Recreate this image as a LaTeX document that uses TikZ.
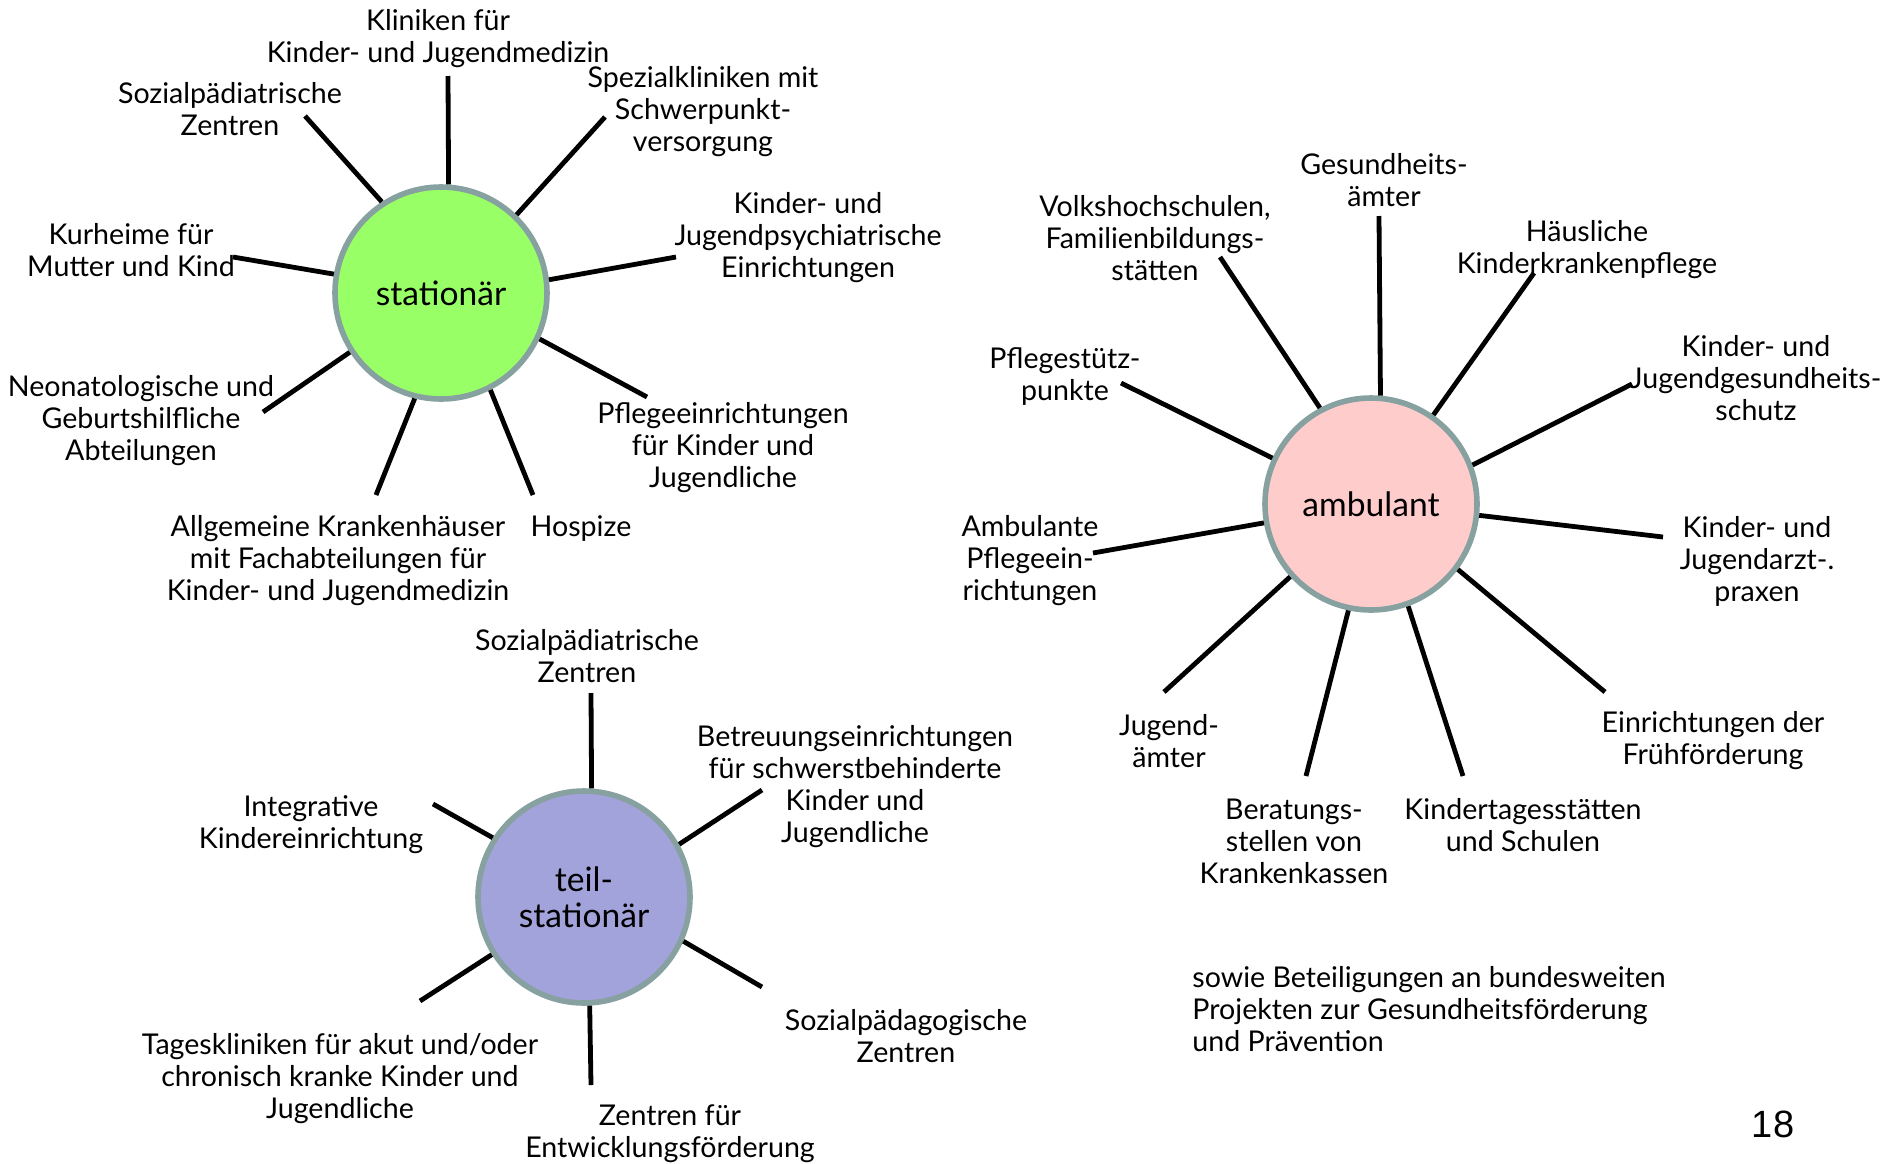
\documentclass[tikz,border=0pt]{standalone}
\usepackage{fontspec}
\setmainfont{Lato}
\newfontfamily\numfont{Liberation Sans}
\definecolor{stgreen}{RGB}{153,255,102}
\definecolor{ambpink}{RGB}{255,204,204}
\definecolor{teilblue}{RGB}{163,163,219}
\definecolor{hubborder}{RGB}{135,160,160}
\begin{document}
\begin{tikzpicture}[x=0.5pt,y=-0.5pt,
  hub/.style={circle, draw=hubborder, line width=2.8pt, minimum size=106pt, inner sep=0pt,
    font=\fontsize{16.8}{18}\selectfont, align=center},
  spoke/.style={line width=2.4pt, black},
  lbl/.style={align=center, inner sep=0pt, yshift=-1.5pt, font=\fontsize{14.3}{16}\selectfont}]
\useasboundingbox (0,0) rectangle (1897,1163);
\fill[white] (0,0) rectangle (1897,1163);

% ---------- stationaer ----------
\node[hub, fill=stgreen] (st) at (441,293) {stationär};
\coordinate (s1) at (448,76);
\coordinate (s2) at (605,117);
\coordinate (s3) at (305,116);
\coordinate (s4) at (233,257);
\coordinate (s5) at (676,257);
\coordinate (s6) at (647,397);
\coordinate (s7) at (263,412);
\coordinate (s8) at (376,495);
\coordinate (s9) at (533,495);
\draw[spoke] (st.86.2) -- (s1);
\draw[spoke] (st.46) -- (s2);
\draw[spoke] (st.123) -- (s3);
\draw[spoke] (st.170) -- (s4);
\draw[spoke] (st.7) -- (s5);
\draw[spoke] (st.-25) -- (s6);
\draw[spoke] (st.213.5) -- (s7);
\draw[spoke] (st.256) -- (s8);
\draw[spoke] (st.297) -- (s9);

\node[lbl] (l1) at (438,36) {Kliniken für\\Kinder- und Jugendmedizin};
\node[lbl] (l2) at (230,106) {Sozialpädiatrische\\Zentren};
\node[lbl] (l3) at (703,109) {Spezialkliniken mit\\Schwerpunkt-\\versorgung};
\node[lbl] (l4) at (808,235) {Kinder- und\\Jugendpsychiatrische\\Einrichtungen};
\node[lbl] (l5) at (131,247) {Kurheime für\\Mutter und Kind};
\node[lbl] (l6) at (141,418) {Neonatologische und\\Geburtshilfliche\\Abteilungen};
\node[lbl] (l7) at (723,445) {Pflegeeinrichtungen\\für Kinder und\\Jugendliche};
\node[lbl] (l8) at (338,558) {Allgemeine Krankenhäuser\\mit Fachabteilungen für\\Kinder- und Jugendmedizin};
\node[lbl] (l9) at (581,526) {Hospize};

% ---------- ambulant ----------
\node[hub, fill=ambpink] (am) at (1371,504) {ambulant};
\coordinate (a1e) at (1379,216);
\coordinate (a2e) at (1220,257);
\coordinate (a3e) at (1534,273);
\coordinate (a4e) at (1121,383);
\coordinate (a5e) at (1632,384);
\coordinate (a6e) at (1093,553);
\coordinate (a7e) at (1663,537);
\coordinate (a8e) at (1164,692);
\coordinate (a9e) at (1605,692);
\coordinate (a10e) at (1306,776);
\coordinate (a11e) at (1463,776);
\draw[spoke] (am.85.7) -- (a1e);
\draw[spoke] (am.118) -- (a2e);
\draw[spoke] (am.55) -- (a3e);
\draw[spoke] (am.155.5) -- (a4e);
\draw[spoke] (am.21.5) -- (a5e);
\draw[spoke] (am.190) -- (a6e);
\draw[spoke] (am.-6) -- (a7e);
\draw[spoke] (am.222) -- (a8e);
\draw[spoke] (am.-37) -- (a9e);
\draw[spoke] (am.258) -- (a10e);
\draw[spoke] (am.290.5) -- (a11e);

\node[lbl] (a1) at (1384,177) {Gesundheits-\\ämter};
\node[lbl] (a2) at (1155,235) {Volkshochschulen,\\Familienbildungs-\\stätten};
\node[lbl] (a3) at (1587,247) {Häusliche\\Kinderkrankenpflege};
\node[lbl] (a4) at (1065,374) {Pflegestütz-\\punkte};
\node[lbl] (a5) at (1756,375) {Kinder- und\\Jugendgesundheits-\\schutz};
\node[lbl] (a6) at (1030,558) {Ambulante\\Pflegeein-\\richtungen};
\node[lbl] (a7) at (1757,558) {Kinder- und\\Jugendarzt-.\\praxen};
\node[lbl] (a8) at (1169,738) {Jugend-\\ämter};
\node[lbl] (a9) at (1713,738) {Einrichtungen der\\Frühförderung};
\node[lbl] (a10) at (1294,838) {Beratungs-\\stellen von\\Krankenkassen};
\node[lbl] (a11) at (1523,822) {Kindertagesstätten\\und Schulen};

% ---------- teilstationaer ----------
\node[hub, fill=teilblue] (ts) at (584,897) {teil-\\stationär};
\coordinate (t1e) at (591,693);
\coordinate (t2e) at (762,790);
\coordinate (t3e) at (433,804);
\coordinate (t4e) at (762,987);
\coordinate (t5e) at (420,1001);
\coordinate (t6e) at (591,1085);
\draw[spoke] (ts.86.2) -- (t1e);
\draw[spoke] (ts.29.5) -- (t2e);
\draw[spoke] (ts.147.6) -- (t3e);
\draw[spoke] (ts.-24.5) -- (t4e);
\draw[spoke] (ts.212.6) -- (t5e);
\draw[spoke] (ts.273.8) -- (t6e);

\node[lbl] (t1) at (587,653) {Sozialpädiatrische\\Zentren};
\node[lbl] (t2) at (855,784) {Betreuungseinrichtungen\\für schwerstbehinderte\\Kinder und\\Jugendliche};
\node[lbl] (t3) at (311,822) {Integrative\\Kindereinrichtung};
\node[lbl] (t4) at (906,1033) {Sozialpädagogische\\Zentren};
\node[lbl] (t5) at (340,1075.5) {Tageskliniken für akut und/oder\\chronisch kranke Kinder und\\Jugendliche};
\node[lbl] (t6) at (670,1131) {Zentren für\\Entwicklungsförderung};

% ---------- footer ----------
\node[lbl, align=left, anchor=west] (foot) at (1192,1006.5) {sowie Beteiligungen an bundesweiten\\Projekten zur Gesundheitsförderung\\und Prävention};
\node[inner sep=0pt, font=\numfont\fontsize{19}{22}\selectfont] (pg) at (1773,1124) {18};
\end{tikzpicture}
\end{document}
